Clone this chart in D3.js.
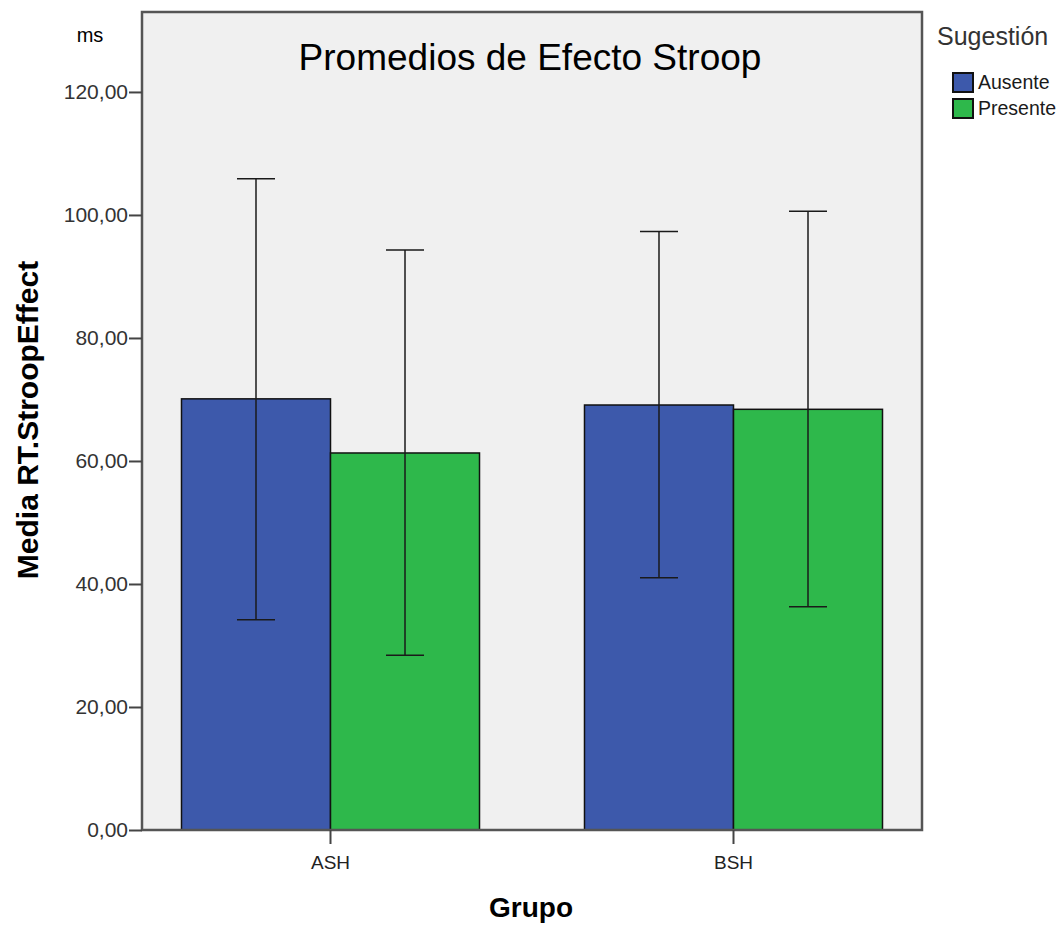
<!DOCTYPE html>
<html>
<head>
<meta charset="utf-8">
<script src="https://cdn.jsdelivr.net/npm/d3@7"></script>
<style>
  body { margin: 0; background: #fff; }
  text { font-family: Arial, "Liberation Sans", sans-serif; }
</style>
</head>
<body>
<svg id="chart" width="1064" height="926"></svg>
<script>
const groups = ['ASH', 'BSH'];
const conditions = ['Ausente', 'Presente'];
const means = [[70.1, 61.3], [69.1, 68.4]];
const upper = [[105.9, 94.3], [97.3, 100.6]];
const lower = [[34.2, 28.4], [41.0, 36.3]];
const yTicks = [0, 20, 40, 60, 80, 100, 120];
const colors = ['#3d59ab', '#2eb84b'];

const rows = [];
groups.forEach((g, i) => conditions.forEach((c, j) => {
  rows.push({ group: g, cond: c, mean: means[i][j], hi: upper[i][j], lo: lower[i][j], k: j });
}));

const mLeft = 142, mTop = 12, mRight = 922, mBottom = 830;
const w = mRight - mLeft, h = mBottom - mTop;

const svg = d3.select('#chart');
const g = svg.append('g').attr('transform', `translate(${mLeft},${mTop})`);

const y = d3.scaleLinear().domain([0, 133.0]).range([h, 0]);
const x0 = d3.scaleBand().domain(groups).range([0, w]).paddingInner(0.2605).paddingOuter(0.098);
const x1 = d3.scaleBand().domain(conditions).range([0, x0.bandwidth()]);

// plot background
g.append('rect')
  .attr('width', w).attr('height', h)
  .attr('fill', '#f0f0f0');

// bars
g.selectAll('.bar')
  .data(rows)
  .join('rect')
  .attr('class', 'bar')
  .attr('x', d => x0(d.group) + x1(d.cond))
  .attr('y', d => y(d.mean))
  .attr('width', x1.bandwidth())
  .attr('height', d => y(0) - y(d.mean))
  .attr('fill', d => colors[d.k])
  .attr('stroke', '#111')
  .attr('stroke-width', 1.5);

// error bars
const eb = g.selectAll('.err')
  .data(rows)
  .join('g')
  .attr('class', 'err')
  .attr('transform', d => `translate(${x0(d.group) + x1(d.cond) + x1.bandwidth() / 2},0)`)
  .attr('stroke', '#1a1a1a')
  .attr('stroke-width', 1.5);
eb.append('line').attr('y1', d => y(d.lo)).attr('y2', d => y(d.hi));
eb.append('line').attr('x1', -19).attr('x2', 19).attr('y1', d => y(d.hi)).attr('y2', d => y(d.hi));
eb.append('line').attr('x1', -19).attr('x2', 19).attr('y1', d => y(d.lo)).attr('y2', d => y(d.lo));

// frame
g.append('rect')
  .attr('width', w).attr('height', h)
  .attr('fill', 'none')
  .attr('stroke', '#555')
  .attr('stroke-width', 2.5);

// y axis
const yAxis = g.append('g')
  .call(d3.axisLeft(y).tickValues(yTicks).tickSize(13).tickPadding(1)
    .tickFormat(d => d3.format('.2f')(d).replace('.', ',')));
yAxis.select('.domain').remove();
yAxis.selectAll('.tick line').attr('stroke', '#444').attr('stroke-width', 2);
yAxis.selectAll('.tick text').attr('font-size', 21).attr('fill', '#333');

// x axis
const xAxis = g.append('g')
  .attr('transform', `translate(0,${h})`)
  .call(d3.axisBottom(x0).tickSize(14).tickPadding(12));
xAxis.select('.domain').remove();
xAxis.selectAll('.tick line').attr('stroke', '#444').attr('stroke-width', 2);
xAxis.selectAll('.tick text').attr('font-size', 19).attr('fill', '#222');

// titles
svg.append('text')
  .attr('x', mLeft + w / 2 - 2).attr('y', 70)
  .attr('text-anchor', 'middle')
  .attr('font-size', 37)
  .text('Promedios de Efecto Stroop');

svg.append('text')
  .attr('x', 90).attr('y', 42)
  .attr('text-anchor', 'middle')
  .attr('font-size', 20)
  .text('ms');

svg.append('text')
  .attr('transform', 'translate(38,420) rotate(-90)')
  .attr('text-anchor', 'middle')
  .attr('font-size', 30)
  .attr('font-weight', 'bold')
  .text('Media RT.StroopEffect');

svg.append('text')
  .attr('x', 531).attr('y', 917)
  .attr('text-anchor', 'middle')
  .attr('font-size', 28)
  .attr('font-weight', 'bold')
  .text('Grupo');

// legend
const legend = svg.append('g').attr('transform', 'translate(937,0)');
legend.append('text')
  .attr('x', 0).attr('y', 45)
  .attr('font-size', 25)
  .attr('fill', '#333')
  .text('Sugestión');
const li = legend.selectAll('.li')
  .data(conditions)
  .join('g')
  .attr('class', 'li')
  .attr('transform', (d, i) => `translate(16,${73 + i * 26})`);
li.append('rect')
  .attr('width', 20).attr('height', 19)
  .attr('fill', (d, i) => colors[i])
  .attr('stroke', '#111').attr('stroke-width', 2);
li.append('text')
  .attr('x', 25).attr('y', 16)
  .attr('font-size', 19.5)
  .attr('fill', '#1a1a1a')
  .text(d => d);
</script>
</body>
</html>
